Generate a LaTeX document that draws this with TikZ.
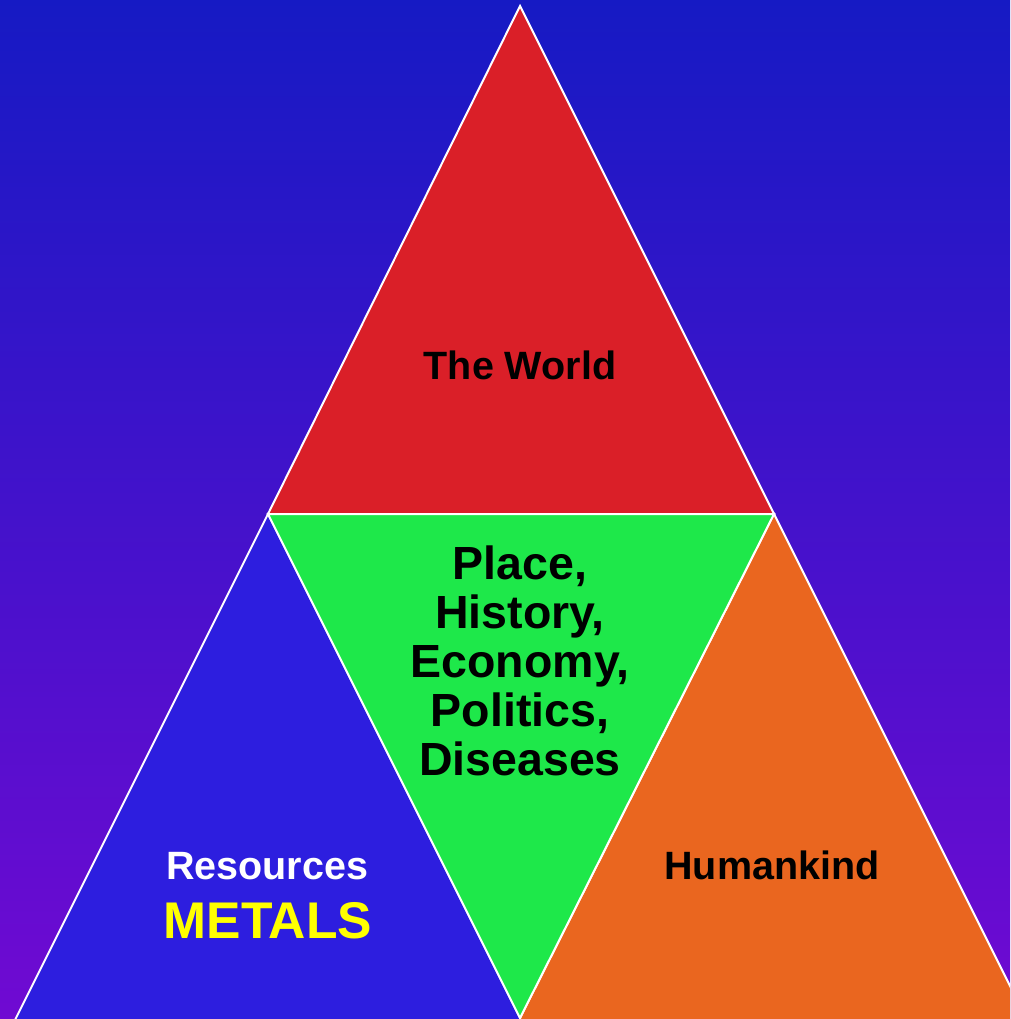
\documentclass[tikz,border=0pt]{standalone}
\usepackage{fontspec}
\setmainfont{Liberation Sans}
\definecolor{bgtop}{HTML}{161AC4}
\definecolor{bgbot}{HTML}{700AD2}
\definecolor{tred}{HTML}{DA1F28}
\definecolor{tgreen}{HTML}{1EE84A}
\definecolor{tblue}{HTML}{2D1EDF}
\definecolor{torange}{HTML}{EA661F}
\definecolor{tyellow}{HTML}{FFFF00}
\begin{document}
\begin{tikzpicture}[x=1pt,y=-1pt,
  tri/.style={draw=white,line width=2pt,line join=miter},
  lbl/.style={font=\bfseries\fontsize{39.5}{47}\selectfont,anchor=base,inner sep=0pt},
  midlbl/.style={font=\bfseries\fontsize{46.5}{49}\selectfont,align=center,inner sep=0pt}]
\useasboundingbox (0,0) rectangle (1010,1019);
\clip (0,0) rectangle (1010,1019);
\shade[top color=bgtop,bottom color=bgbot] (0,0) rectangle (1010,1019);
\coordinate (A) at (520,6);
\coordinate (B) at (268,514);
\coordinate (C) at (774,514);
\coordinate (D) at (520,1018);
\coordinate (Dx) at (520,1040);
\coordinate (E) at (5,1040);
\coordinate (F) at (1037,1040);
\filldraw[tri,fill=tred] (A) -- (B) -- (C) -- cycle;
\filldraw[tri,fill=tblue] (B) -- (D) -- (Dx) -- (E) -- cycle;
\filldraw[tri,fill=torange] (C) -- (F) -- (Dx) -- (D) -- cycle;
\filldraw[tri,fill=tgreen] (B) -- (C) -- (D) -- cycle;
\node[lbl] (world) at (520,379) {The World};
\node[midlbl,anchor=base] (mid) at (520,775) {Place,\\History,\\Economy,\\Politics,\\Diseases};
\node[lbl,text=white] (res) at (267,879) {Resources};
\node[lbl,text=tyellow,font=\bfseries\fontsize{51.6}{60}\selectfont] (met) at (268,938) {METALS};
\node[lbl] (hum) at (772,879) {Humankind};
\end{tikzpicture}
\end{document}
